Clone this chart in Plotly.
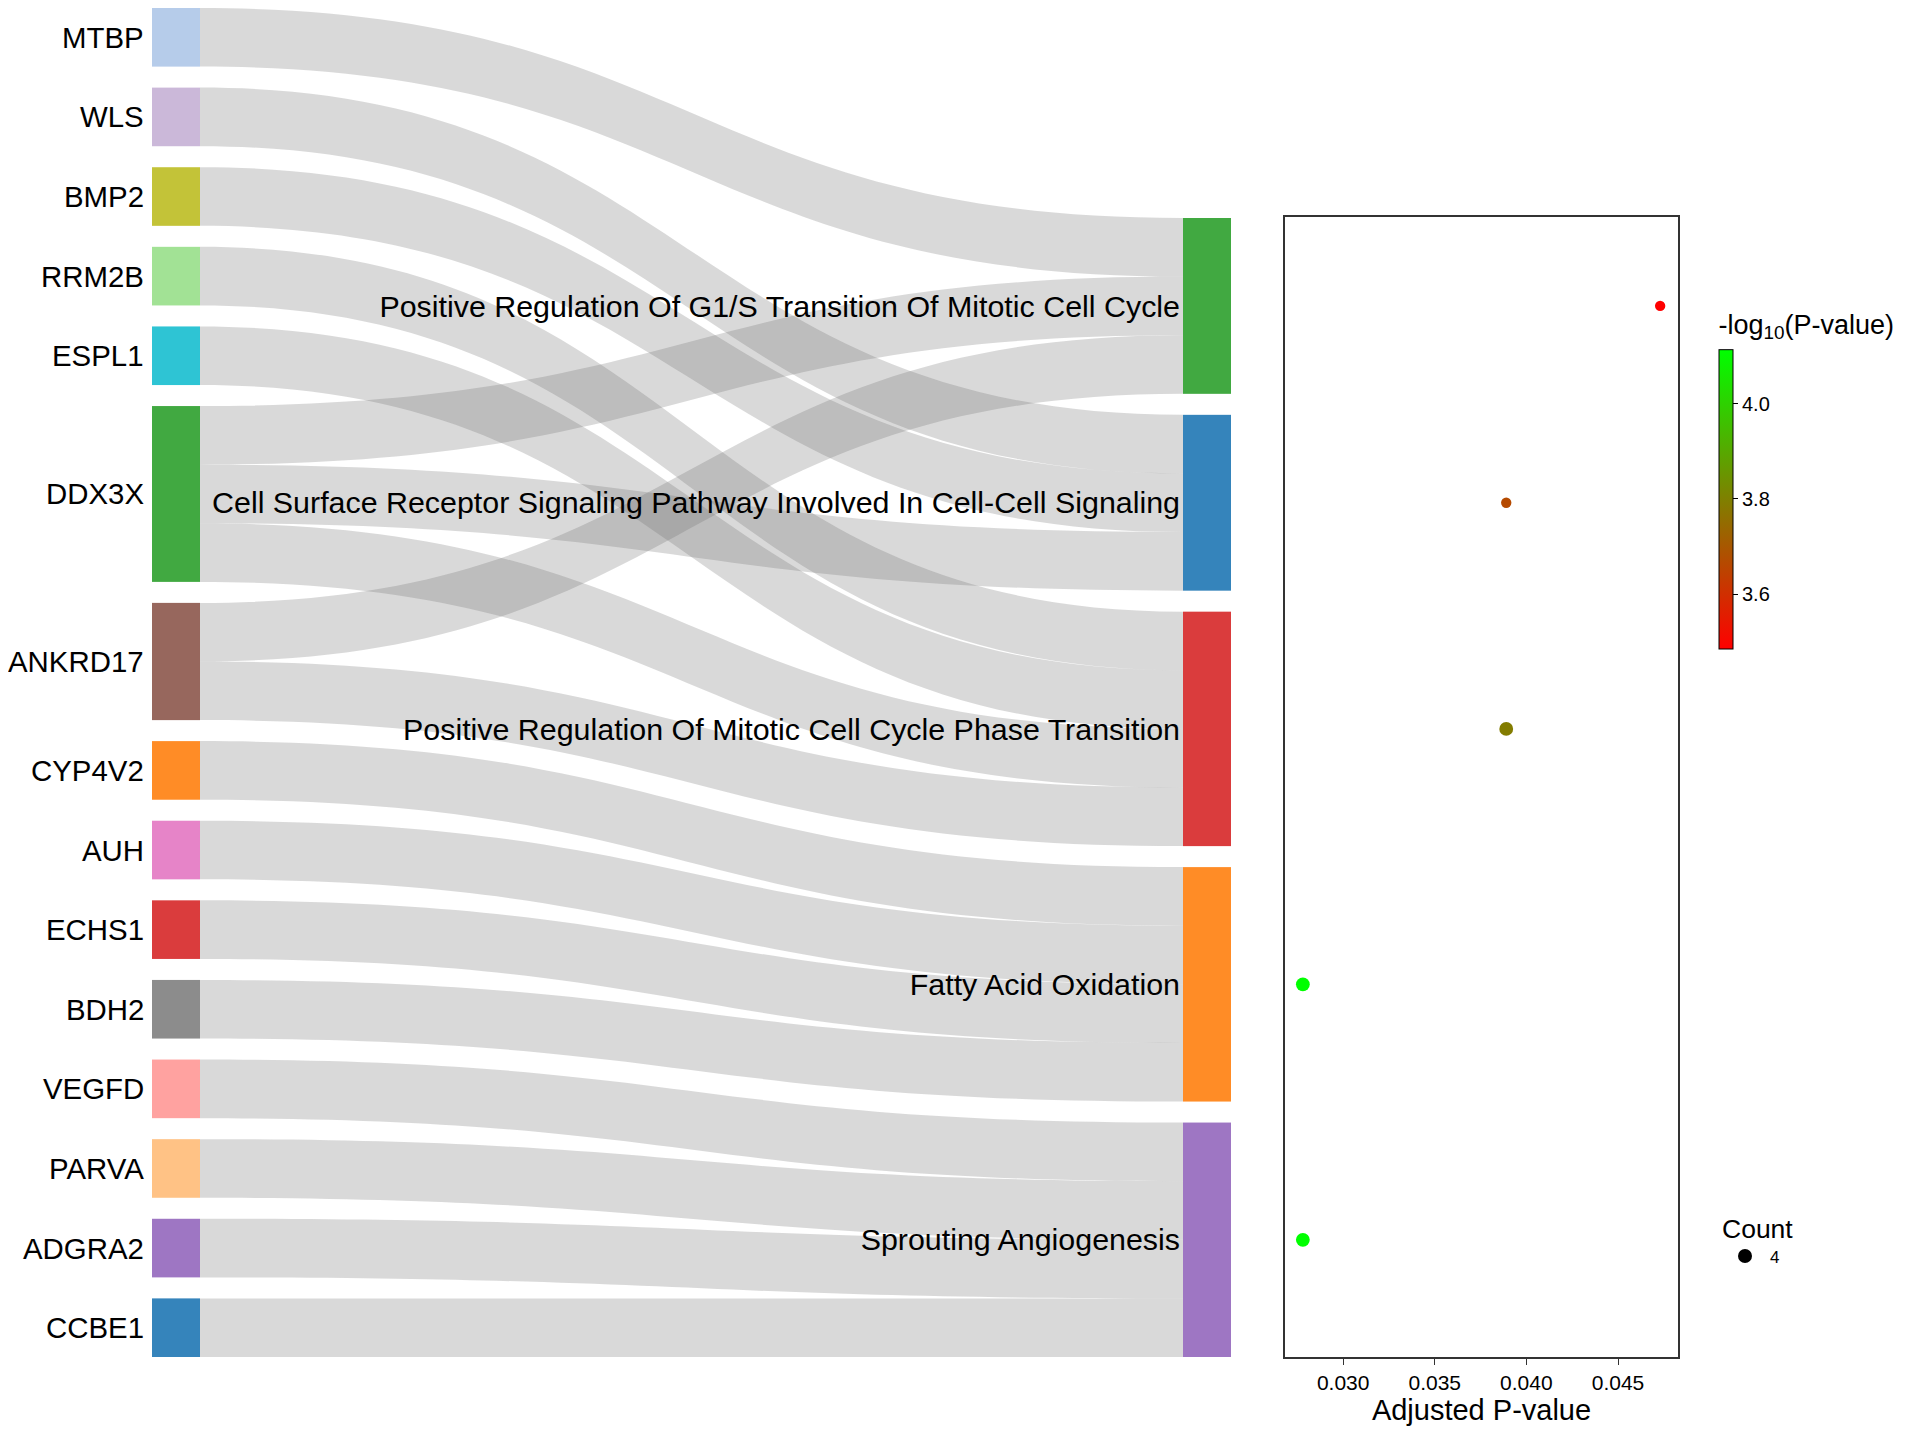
import plotly.graph_objects as go

#genes on the left, in the order they are drawn
genes = ["MTBP", "WLS", "BMP2", "RRM2B", "ESPL1", "DDX3X", "ANKRD17", "CYP4V2",
         "AUH", "ECHS1", "BDH2", "VEGFD", "PARVA", "ADGRA2", "CCBE1"]
gene_colors = ["#aec7e8", "#c5b0d5", "#bcbd22", "#98df8a", "#17becf", "#2ca02c", "#8c564b",
               "#ff7f0e", "#e377c2", "#d62728", "#7f7f7f", "#ff9896", "#ffbb78", "#9467bd", "#1f77b4"]

#enriched terms on the right
terms = ["Positive Regulation Of G1/S Transition Of Mitotic Cell Cycle",
         "Cell Surface Receptor Signaling Pathway Involved In Cell-Cell Signaling",
         "Positive Regulation Of Mitotic Cell Cycle Phase Transition",
         "Fatty Acid Oxidation",
         "Sprouting Angiogenesis"]
term_colors = ["#2ca02c", "#1f77b4", "#d62728", "#ff7f0e", "#9467bd"]
term_genes = [["MTBP", "DDX3X", "ANKRD17"],
              ["WLS", "BMP2", "DDX3X"],
              ["RRM2B", "ESPL1", "DDX3X", "ANKRD17"],
              ["CYP4V2", "AUH", "ECHS1", "BDH2"],
              ["VEGFD", "PARVA", "ADGRA2", "CCBE1"]]
adj_pvalues = [0.0473, 0.0389, 0.0389, 0.0278, 0.0278]
neg_log10_p = [3.485, 3.667, 3.79, 4.113, 4.113]

FONT = "Liberation Sans, Arial, sans-serif"

#page geometry: the browser puts an 8px margin round the figure
PAGE_MARGIN = 8
FIG_W, FIG_H = 1908 - PAGE_MARGIN, 1429 - PAGE_MARGIN
#positions below are in window pixels
SK_X0, SK_X1, SK_Y0, SK_Y1 = 152, 1231, 8, 1357
BOX_X0, BOX_X1, BOX_Y0, BOX_Y1 = 1285, 1678, 217, 1357
NODE_T, NODE_PAD = 48, 21


def px_x(x):
    return (x - PAGE_MARGIN) / FIG_W


def px_y(y):
    return 1 - (y - PAGE_MARGIN) / FIG_H


def rgba(hex_color, alpha=0.9):
    h = hex_color.lstrip("#")
    r, g, b = (int(h[i:i + 2], 16) for i in (0, 2, 4))
    return f"rgba({r},{g},{b},{alpha})"


#node sizes follow the number of links, like d3-sankey does
counts = [len(tg) for tg in term_genes]
gene_vals = [sum(g in tg for tg in term_genes) for g in genes]
sk_w = SK_X1 - SK_X0
sk_h = SK_Y1 - SK_Y0
ky = min((sk_h - (len(c) - 1) * NODE_PAD) / sum(c) for c in (gene_vals, counts))


def stack(vals, from_bottom):
    total = sum(vals) * ky + (len(vals) - 1) * NODE_PAD
    y = sk_h - total if from_bottom else 0
    centers = []
    for v in vals:
        centers.append(y + v * ky / 2)
        y += v * ky + NODE_PAD
    return centers


gene_cy = stack(gene_vals, False)
term_cy = stack(counts, True)

node_x = [NODE_T / 2 / sk_w] * len(genes) + [1 - NODE_T / 2 / sk_w] * len(terms)
node_y = [c / sk_h for c in gene_cy + term_cy]

src, tgt, val = [], [], []
for ti, tg in enumerate(term_genes):
    for g in tg:
        src.append(genes.index(g))
        tgt.append(len(genes) + ti)
        val.append(1)

fig = go.Figure()

fig.add_trace(go.Sankey(
    domain=dict(x=[px_x(SK_X0), px_x(SK_X1)], y=[px_y(SK_Y1), px_y(SK_Y0)]),
    arrangement="snap",
    node=dict(label=[""] * len(genes) + terms,
              color=[rgba(c) for c in gene_colors + term_colors],
              x=node_x, y=node_y, thickness=NODE_T, pad=NODE_PAD,
              line=dict(width=0), hoverinfo="skip"),
    link=dict(source=src, target=tgt, value=val, color="rgba(110,110,110,0.26)",
              hoverinfo="skip"),
    textfont=dict(family=FONT, size=30.4, color="black", shadow="none"),
))

#dot plot next to the terms, sharing the sankey vertical scale
xlo, xhi = min(adj_pvalues), max(adj_pvalues)
xpad = 0.05 * (xhi - xlo)
cb_title_h = 39
fig.add_trace(go.Scatter(
    x=adj_pvalues, y=[c / sk_h for c in term_cy], mode="markers",
    marker=dict(size=counts, sizemode="diameter", sizeref=0.29, opacity=1,
                color=neg_log10_p, colorscale=[[0, "#ff0000"], [1, "#00ff00"]],
                cmin=min(neg_log10_p), cmax=max(neg_log10_p), line=dict(width=0),
                colorbar=dict(
                    title=dict(text="-log<sub>10</sub>(P-value)", side="top",
                               font=dict(size=27, family=FONT)),
                    x=px_x(1719), xanchor="left", xpad=0,
                    y=px_y(649), yanchor="bottom", ypad=0,
                    len=299 + cb_title_h, lenmode="pixels", thickness=14,
                    outlinewidth=1, outlinecolor="black",
                    ticks="outside", ticklen=5, tickwidth=1, tickcolor="black",
                    tickvals=[3.6, 3.8, 4.0], tickformat=".1f",
                    tickfont=dict(size=20, family=FONT))),
    showlegend=False, hoverinfo="skip"))

#size legend
fig.add_trace(go.Scatter(x=[None], y=[None], mode="markers", name=str(max(counts)),
                         marker=dict(color="black", size=14), showlegend=True))

#gene labels to the left of the source nodes
annotations = []
for g, cy in zip(genes, gene_cy):
    annotations.append(dict(text=g, x=px_x(SK_X0 - 6), y=px_y(SK_Y0 + cy),
                            xref="paper", yref="paper", xanchor="right", yanchor="middle",
                            showarrow=False, font=dict(size=29.4, family=FONT, color="black")))

fig.update_layout(
    width=FIG_W, height=FIG_H,
    margin=dict(l=0, r=0, t=0, b=0, autoexpand=False),
    paper_bgcolor="white", plot_bgcolor="white",
    font=dict(family=FONT, color="black"),
    annotations=annotations,
    xaxis=dict(domain=[px_x(BOX_X0), px_x(BOX_X1)], range=[xlo - xpad, xhi + xpad],
               tickvals=[0.030, 0.035, 0.040, 0.045], tickformat=".3f",
               ticks="outside", ticklen=6, tickwidth=1.2, tickcolor="#333",
               showline=True, linecolor="#333", linewidth=1.5, mirror=True,
               showgrid=False, zeroline=False, automargin=False,
               tickfont=dict(size=21),
               title=dict(text="Adjusted P-value", font=dict(size=29), standoff=4)),
    yaxis=dict(domain=[px_y(BOX_Y1), px_y(BOX_Y0)],
               range=[(BOX_Y1 - SK_Y0) / sk_h, (BOX_Y0 - SK_Y0) / sk_h],
               showticklabels=False, ticks="", showline=True, linecolor="#333",
               linewidth=1.5, mirror=True, showgrid=False, zeroline=False,
               automargin=False),
    legend=dict(title=dict(text="Count", font=dict(size=26.5)), font=dict(size=17),
                x=px_x(1720), y=px_y(1204), xanchor="left", yanchor="top",
                itemwidth=40, bgcolor="rgba(0,0,0,0)"),
)

fig.write_html("out.html")
